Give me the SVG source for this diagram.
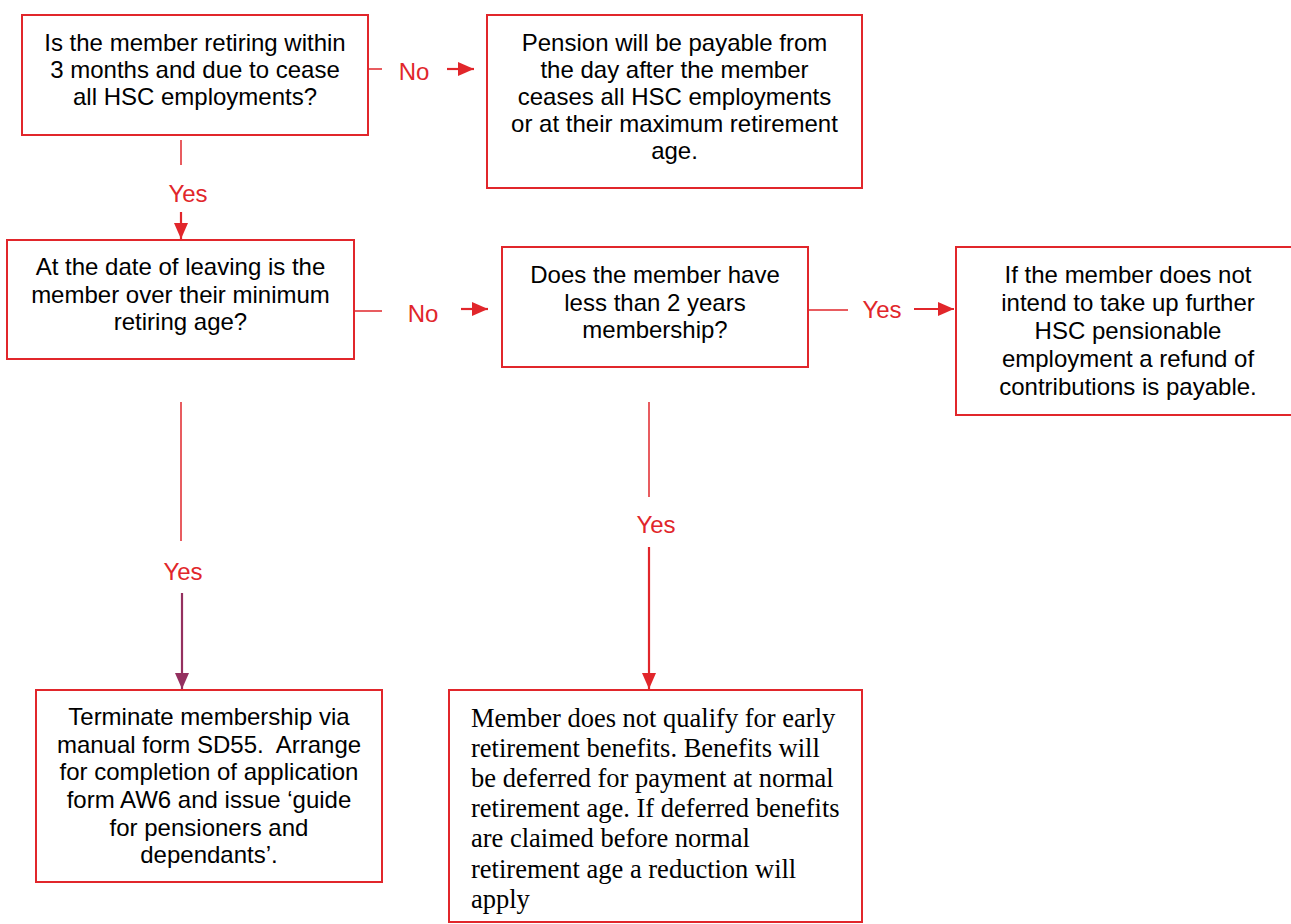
<svg xmlns="http://www.w3.org/2000/svg" width="1291" height="924" viewBox="0 0 1291 924">
<style>
.box{fill:#fff;stroke:#E1262B;stroke-width:2}
.t{font-family:"Liberation Sans",Arial,sans-serif;font-size:24px;fill:#000;text-anchor:middle}
.s{font-family:"Liberation Serif","Times New Roman",serif;font-size:26.5px;fill:#000}
.lbl{font-family:"Liberation Sans",Arial,sans-serif;font-size:24px;fill:#E1262B;text-anchor:middle}
.ln{stroke:#E1262B;stroke-width:1.5;fill:none}
.ar{stroke:#E1262B;stroke-width:2.2;fill:none;marker-end:url(#ah)}
.arp{stroke:#94305F;stroke-width:2.2;fill:none;marker-end:url(#ahp)}
</style>
<defs>
<marker id="ah" viewBox="0 0 16 14" refX="16" refY="7" markerWidth="16" markerHeight="14" orient="auto" markerUnits="userSpaceOnUse"><path d="M0,0 L16,7 L0,14 Z" fill="#E1262B"/></marker>
<marker id="ahp" viewBox="0 0 16 14" refX="16" refY="7" markerWidth="16" markerHeight="14" orient="auto" markerUnits="userSpaceOnUse"><path d="M0,0 L16,7 L0,14 Z" fill="#94305F"/></marker>
</defs>
<rect width="1291" height="924" fill="#fff"/>
<g id="connectors">
<line class="ln" x1="368" y1="69" x2="382" y2="69"/>
<text class="lbl" x="414" y="80">No</text>
<line class="ar" x1="447" y1="69" x2="474" y2="69"/>
<line class="ln" x1="181" y1="140" x2="181" y2="165"/>
<text class="lbl" x="188" y="202">Yes</text>
<line class="ar" x1="181" y1="212" x2="181" y2="239"/>
<line class="ln" x1="354" y1="311" x2="382" y2="311"/>
<text class="lbl" x="423" y="322">No</text>
<line class="ar" x1="461" y1="309" x2="488" y2="309"/>
<line class="ln" x1="808" y1="310" x2="848" y2="310"/>
<text class="lbl" x="882" y="318">Yes</text>
<line class="ar" x1="914" y1="309" x2="954" y2="309"/>
<line class="ln" x1="181" y1="402" x2="181" y2="541"/>
<text class="lbl" x="183" y="580">Yes</text>
<line class="arp" x1="182" y1="593" x2="182" y2="689"/>
<line class="ln" x1="649" y1="402" x2="649" y2="497"/>
<text class="lbl" x="656" y="533">Yes</text>
<line class="ar" x1="649" y1="547" x2="649" y2="689"/>
</g>
<g id="n1">
<rect class="box" x="22" y="15" width="346" height="120"/>
<text class="t" x="195" y="51">Is the member retiring within</text>
<text class="t" x="195" y="78">3 months and due to cease</text>
<text class="t" x="195" y="105">all HSC employments?</text>
</g>
<g id="n2">
<rect class="box" x="487" y="15" width="375" height="173"/>
<text class="t" x="674.5" y="51">Pension will be payable from</text>
<text class="t" x="674.5" y="78">the day after the member</text>
<text class="t" x="674.5" y="105">ceases all HSC employments</text>
<text class="t" x="674.5" y="132">or at their maximum retirement</text>
<text class="t" x="674.5" y="159">age.</text>
</g>
<g id="n3">
<rect class="box" x="7" y="240" width="347" height="119"/>
<text class="t" x="180.5" y="275">At the date of leaving is the</text>
<text class="t" x="180.5" y="303">member over their minimum</text>
<text class="t" x="180.5" y="330">retiring age?</text>
</g>
<g id="n4">
<rect class="box" x="502" y="247" width="306" height="120"/>
<text class="t" x="655" y="283">Does the member have</text>
<text class="t" x="655" y="311">less than 2 years</text>
<text class="t" x="655" y="338">membership?</text>
</g>
<g id="n5">
<rect class="box" x="956" y="247" width="344" height="168"/>
<text class="t" x="1128" y="283">If the member does not</text>
<text class="t" x="1128" y="311">intend to take up further</text>
<text class="t" x="1128" y="339">HSC pensionable</text>
<text class="t" x="1128" y="367">employment a refund of</text>
<text class="t" x="1128" y="395">contributions is payable.</text>
</g>
<g id="n6">
<rect class="box" x="36" y="690" width="346" height="192"/>
<text class="t" x="209" y="725">Terminate membership via</text>
<text class="t" x="209" y="753" xml:space="preserve">manual form SD55.  Arrange</text>
<text class="t" x="209" y="780">for completion of application</text>
<text class="t" x="209" y="808">form AW6 and issue ‘guide</text>
<text class="t" x="209" y="836">for pensioners and</text>
<text class="t" x="209" y="863">dependants’.</text>
</g>
<g id="n7">
<rect class="box" x="449" y="690" width="413" height="232"/>
<text class="s" x="471" y="727">Member does not qualify for early</text>
<text class="s" x="471" y="757">retirement benefits. Benefits will</text>
<text class="s" x="471" y="787">be deferred for payment at normal</text>
<text class="s" x="471" y="817">retirement age. If deferred benefits</text>
<text class="s" x="471" y="847">are claimed before normal</text>
<text class="s" x="471" y="878">retirement age a reduction will</text>
<text class="s" x="471" y="908">apply</text>
</g>
</svg>
